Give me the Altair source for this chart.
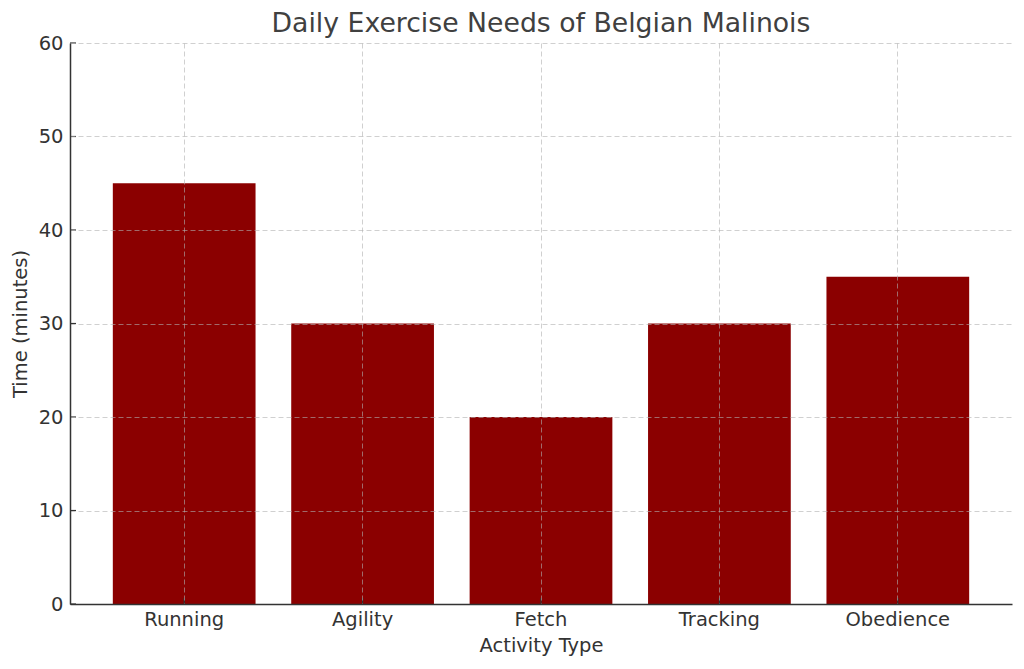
import altair as alt
import pandas as pd

activities = ["Running", "Agility", "Fetch", "Tracking", "Obedience"]
minutes = [45, 30, 20, 30, 35]
y_ticks = [0, 10, 20, 30, 40, 50, 60]

df = pd.DataFrame({"Activity": activities, "Minutes": minutes})
yt = pd.DataFrame({"v": y_ticks})

W, H = 942, 561
FONT = "DejaVu Sans"

x_scale = alt.Scale(domain=activities, paddingInner=0.2, paddingOuter=0.24)
y_scale = alt.Scale(domain=[0, 60], nice=False)

bars = alt.Chart(df).mark_bar(color="#8b0000").encode(
    x=alt.X("Activity:N", scale=x_scale, sort=activities,
            axis=alt.Axis(title="Activity Type", labelAngle=0, bandPosition=0.5,
                          grid=True, ticks=False, labelPadding=6, titlePadding=8,
                          zindex=1)),
    y=alt.Y("Minutes:Q", scale=y_scale,
            axis=alt.Axis(title="Time (minutes)", values=y_ticks, grid=True,
                          ticks=False, labelPadding=7, titlePadding=8, zindex=1)),
)

# inward tick marks (matplotlib style)
yticks_layer = alt.Chart(yt).mark_rule(color="#333333", strokeWidth=1.2).encode(
    y=alt.Y("v:Q", scale=y_scale),
    x=alt.value(0),
    x2=alt.value(6),
)
xticks_layer = alt.Chart(df).mark_rule(color="#333333", strokeWidth=1.2).encode(
    x=alt.X("Activity:N", scale=x_scale, sort=activities, bandPosition=0.5),
    y=alt.value(H),
    y2=alt.value(H - 6),
)

chart = alt.layer(bars, yticks_layer, xticks_layer).properties(
    width=W,
    height=H,
    background="white",
    title=alt.TitleParams("Daily Exercise Needs of Belgian Malinois",
                          fontSize=26.7, font=FONT, fontWeight="normal",
                          color="#404040", anchor="middle", offset=-5),
    autosize=alt.AutoSizeParams(type="none"),
    padding={"left": 70, "top": 43, "right": 12, "bottom": 65},
).configure_axis(
    labelFont=FONT, titleFont=FONT, labelFontSize=19.5, titleFontSize=19.5,
    labelColor="#333333", titleColor="#333333", titleFontWeight="normal",
    domainColor="#333333", domainWidth=1.5,
    gridColor="#b0b0b0", gridOpacity=0.6, gridDash=[5, 3], gridWidth=1,
).configure_view(stroke=None)

chart.save("out.html", embed_options={"renderer": "svg", "actions": False})
